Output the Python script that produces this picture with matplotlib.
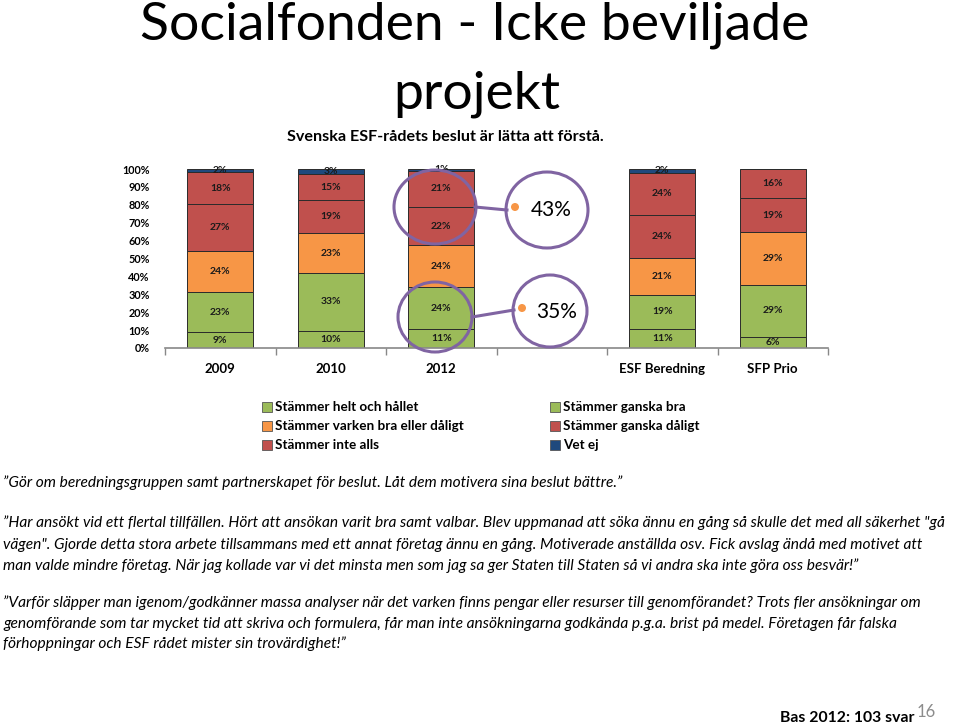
import numpy as np
import matplotlib.pyplot as plt
from matplotlib.patches import Rectangle, Ellipse

# Chart data (percent of respondents, per group)
categories = ['2009', '2010', '2012', '', 'ESF Beredning', 'SFP Prio']
helt_och_hallet = [9, 10, 11, 0, 11, 6]
ganska_bra = [23, 33, 24, 0, 19, 29]
varken_eller = [24, 23, 24, 0, 21, 29]
ganska_daligt = [27, 19, 22, 0, 24, 19]
inte_alls = [18, 15, 21, 0, 24, 16]
vet_ej = [2, 3, 1, 0, 2, 0]

series_names = ['Stämmer helt och hållet', 'Stämmer ganska bra',
                'Stämmer varken bra eller dåligt', 'Stämmer ganska dåligt',
                'Stämmer inte alls', 'Vet ej']
series_colors = ['#9BBB59', '#9BBB59', '#F79646', '#C0504D', '#C0504D', '#1F497D']

callout_values = ['43%', '35%']

quotes = [
    '\u201dGör om beredningsgruppen samt partnerskapet för beslut. Låt dem motivera sina beslut bättre.\u201d',
    '\u201dHar ansökt vid ett flertal tillfällen. Hört att ansökan varit bra samt valbar. Blev uppmanad att söka ännu en gång så skulle det med all säkerhet "gå',
    'vägen". Gjorde detta stora arbete tillsammans med ett annat företag ännu en gång. Motiverade anställda osv. Fick avslag ändå med motivet att',
    'man valde mindre företag. När jag kollade var vi det minsta men som jag sa ger Staten till Staten så vi andra ska inte göra oss besvär!\u201d',
    '\u201dVarför släpper man igenom/godkänner massa analyser när det varken finns pengar eller resurser till genomförandet? Trots fler ansökningar om',
    'genomförande som tar mycket tid att skriva och formulera, får man inte ansökningarna godkända p.g.a. brist på medel. Företagen får falska',
    'förhoppningar och ESF rådet mister sin trovärdighet!\u201d',
]
quote_y = [483, 523, 545, 566, 603, 624, 644]

W, H = 960, 727
fig = plt.figure(figsize=(W / 100, H / 100), dpi=100)
fig.patch.set_facecolor('white')


def fx(px):
    return px / W


def fy(py):
    return 1 - py / H


body_font = ['Lato', 'DejaVu Sans']

# slide title
fig.text(fx(475), fy(25), 'Socialfonden - Icke beviljade', ha='center', va='center',
         fontsize=38.5, family=body_font)
fig.text(fx(477), fy(94), 'projekt', ha='center', va='center', fontsize=38.5, family=body_font)

# stacked 100% bar chart
ax = fig.add_axes([fx(165), fy(348), fx(828) - fx(165), (348 - 169) / H])
data = np.array([helt_och_hallet, ganska_bra, varken_eller, ganska_daligt, inte_alls, vet_ej], dtype=float)
totals = data.sum(axis=0)
totals[totals == 0] = 1
shares = data / totals * 100
x = np.arange(len(categories))
bottom = np.zeros(len(categories))
for i in range(len(series_names)):
    ax.bar(x, shares[i], 0.6, bottom=bottom, color=series_colors[i],
           edgecolor='#2b2b2b', linewidth=0.7)
    for j in range(len(categories)):
        if data[i, j] > 0:
            ax.text(x[j], bottom[j] + shares[i, j] / 2, '%d%%' % data[i, j],
                    ha='center', va='center', fontsize=7.5, fontweight='bold',
                    color='#1a1a1a', family=body_font)
    bottom += shares[i]

ax.set_xlim(-0.5, len(categories) - 0.5)
ax.set_ylim(0, 100)
ax.set_yticks(np.arange(0, 101, 10))
ax.set_yticklabels(['%d%%' % v for v in range(0, 101, 10)], fontsize=7.8, fontweight='bold',
                   family=body_font)
ax.tick_params(axis='y', length=0, pad=11)
ax.set_xticks(np.arange(-0.5, len(categories), 1.0))
ax.set_xticklabels([])
ax.tick_params(axis='x', direction='out', length=5, color='#888888', width=1)
for s in ['left', 'top', 'right']:
    ax.spines[s].set_visible(False)
ax.spines['bottom'].set_color('#888888')
ax.spines['bottom'].set_linewidth(1.2)
for j, c in enumerate(categories):
    ax.text(x[j], -12, c, ha='center', va='center', fontsize=9.5, fontweight='bold',
            family=body_font)

fig.text(fx(445), fy(137), 'Svenska ESF-rådets beslut är lätta att förstå.', ha='center',
         va='center', fontsize=11.6, fontweight='bold', family=body_font)

# callout circles
purple = '#8064A2'
circles = [(435, 207, 41, 37), (435, 317, 37, 35), (547, 210, 41, 38), (550, 311, 37, 36)]
for cx, cy, rx, ry in circles:
    fig.add_artist(Ellipse((fx(cx), fy(cy)), 2 * rx / W, 2 * ry / H, facecolor='none',
                           edgecolor=purple, linewidth=2.2))
for (x0, y0, x1, y1) in [(475, 207, 507, 210), (472, 317, 514, 310)]:
    fig.add_artist(plt.Line2D([fx(x0), fx(x1)], [fy(y0), fy(y1)], color=purple, linewidth=2.2))
for (dx, dy), label, (tx, ty) in zip([(515, 207), (522, 308)], callout_values,
                                     [(551, 210), (557, 312)]):
    fig.add_artist(Ellipse((fx(dx), fy(dy)), 8 / W, 8 / H, facecolor='#F79646', edgecolor='none'))
    fig.text(fx(tx), fy(ty), label, ha='center', va='center', fontsize=15, family=body_font)

# legend
legend_pos = [(267, 407), (267, 426), (267, 445), (555, 407), (555, 426), (555, 445)]
legend_order = [0, 2, 4, 1, 3, 5]
for (lx, ly), k in zip(legend_pos, legend_order):
    fig.add_artist(Rectangle((fx(lx - 5), fy(ly + 5)), 10 / W, 10 / H, facecolor=series_colors[k],
                             edgecolor='#555555', linewidth=0.6))
    fig.text(fx(lx + 8), fy(ly), series_names[k], ha='left', va='center', fontsize=9.7,
             fontweight='bold', family=body_font)

# quotes
for line, qy in zip(quotes, quote_y):
    fig.text(fx(3), fy(qy), line, ha='left', va='center', fontsize=11.2, style='italic',
             family=body_font)

fig.text(fx(915), fy(718), 'Bas 2012: 103 svar', ha='right', va='center', fontsize=11.3,
         fontweight='bold', family=body_font)
fig.text(fx(917), fy(712), '16', ha='left', va='center', fontsize=12, color='#8c8c8c',
         family=body_font)

fig.savefig('out.png', dpi=100)
